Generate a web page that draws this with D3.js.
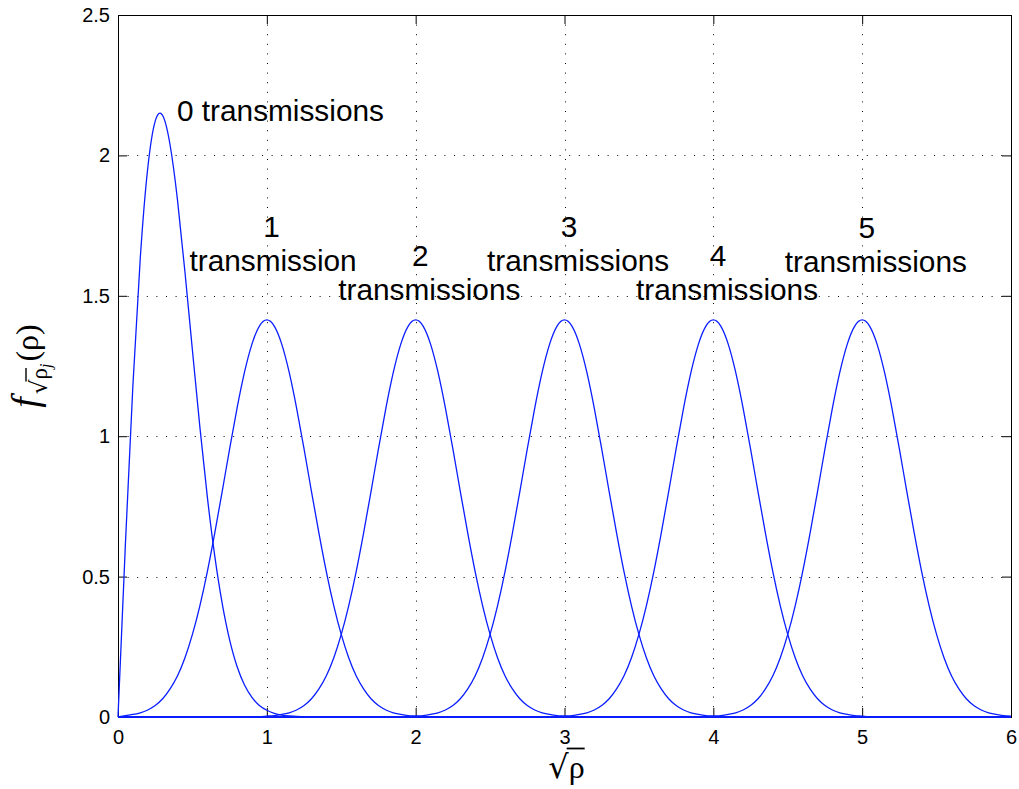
<!DOCTYPE html>
<html><head><meta charset="utf-8">
<script src="https://cdn.jsdelivr.net/npm/d3@7"></script>
<style>
html,body{margin:0;padding:0;background:#fff;}
svg{display:block;font-family:"Liberation Sans",Arial,Helvetica,sans-serif;}
</style></head><body>
<svg id="chart" width="1019" height="789"></svg>
<script>
// Densities of sqrt(rho) after j transmissions, sampled every 0.05 from 0 to 6
const sampleStep = 0.05;

const xTicks = [0, 1, 2, 3, 4, 5, 6];
const xTickLabels = ["0", "1", "2", "3", "4", "5", "6"];
const yTicks = [0, 0.5, 1, 1.5, 2, 2.5];
const yTickLabels = ["0", "0.5", "1", "1.5", "2", "2.5"];

// j = 0
const density0 = [
  0,0.619,1.180,1.637,1.955,2.122,2.142,2.037,1.840,1.584,1.306,1.033,0.785,0.574,0.405,0.275,0.180,0.114,0.070,0.041,
  0.024,0.013,0.007,0.004,0.002,0.001,0,0,0,0,0,0,0,0,0,0,0,0,0,0,
  0,0,0,0,0,0,0,0,0,0,0,0,0,0,0,0,0,0,0,0,
  0,0,0,0,0,0,0,0,0,0,0,0,0,0,0,0,0,0,0,0,
  0,0,0,0,0,0,0,0,0,0,0,0,0,0,0,0,0,0,0,0,
  0,0,0,0,0,0,0,0,0,0,0,0,0,0,0,0,0,0,0,0,
  0
];
// j = 1
const density1 = [
  0,0.005,0.009,0.015,0.025,0.041,0.065,0.100,0.147,0.211,0.294,0.396,0.517,0.655,0.803,0.955,1.100,1.228,1.328,1.392,
  1.414,1.392,1.328,1.228,1.100,0.955,0.803,0.655,0.517,0.396,0.294,0.211,0.147,0.100,0.065,0.041,0.025,0.015,0.009,0.005,
  0.003,0.001,0.001,0,0,0,0,0,0,0,0,0,0,0,0,0,0,0,0,0,
  0,0,0,0,0,0,0,0,0,0,0,0,0,0,0,0,0,0,0,0,
  0,0,0,0,0,0,0,0,0,0,0,0,0,0,0,0,0,0,0,0,
  0,0,0,0,0,0,0,0,0,0,0,0,0,0,0,0,0,0,0,0,
  0
];
// j = 2
const density2 = [
  0,0,0,0,0,0,0,0,0,0,0,0,0,0,0,0,0,0,0.001,0.001,
  0.003,0.005,0.009,0.015,0.025,0.041,0.065,0.100,0.147,0.211,0.294,0.396,0.517,0.655,0.803,0.955,1.100,1.228,1.328,1.392,
  1.414,1.392,1.328,1.228,1.100,0.955,0.803,0.655,0.517,0.396,0.294,0.211,0.147,0.100,0.065,0.041,0.025,0.015,0.009,0.005,
  0.003,0.001,0.001,0,0,0,0,0,0,0,0,0,0,0,0,0,0,0,0,0,
  0,0,0,0,0,0,0,0,0,0,0,0,0,0,0,0,0,0,0,0,
  0,0,0,0,0,0,0,0,0,0,0,0,0,0,0,0,0,0,0,0,
  0
];
// j = 3
const density3 = [
  0,0,0,0,0,0,0,0,0,0,0,0,0,0,0,0,0,0,0,0,
  0,0,0,0,0,0,0,0,0,0,0,0,0,0,0,0,0,0,0.001,0.001,
  0.003,0.005,0.009,0.015,0.025,0.041,0.065,0.100,0.147,0.211,0.294,0.396,0.517,0.655,0.803,0.955,1.100,1.228,1.328,1.392,
  1.414,1.392,1.328,1.228,1.100,0.955,0.803,0.655,0.517,0.396,0.294,0.211,0.147,0.100,0.065,0.041,0.025,0.015,0.009,0.005,
  0.003,0.001,0.001,0,0,0,0,0,0,0,0,0,0,0,0,0,0,0,0,0,
  0,0,0,0,0,0,0,0,0,0,0,0,0,0,0,0,0,0,0,0,
  0
];
// j = 4
const density4 = [
  0,0,0,0,0,0,0,0,0,0,0,0,0,0,0,0,0,0,0,0,
  0,0,0,0,0,0,0,0,0,0,0,0,0,0,0,0,0,0,0,0,
  0,0,0,0,0,0,0,0,0,0,0,0,0,0,0,0,0,0,0.001,0.001,
  0.003,0.005,0.009,0.015,0.025,0.041,0.065,0.100,0.147,0.211,0.294,0.396,0.517,0.655,0.803,0.955,1.100,1.228,1.328,1.392,
  1.414,1.392,1.328,1.228,1.100,0.955,0.803,0.655,0.517,0.396,0.294,0.211,0.147,0.100,0.065,0.041,0.025,0.015,0.009,0.005,
  0.003,0.001,0.001,0,0,0,0,0,0,0,0,0,0,0,0,0,0,0,0,0,
  0
];
// j = 5
const density5 = [
  0,0,0,0,0,0,0,0,0,0,0,0,0,0,0,0,0,0,0,0,
  0,0,0,0,0,0,0,0,0,0,0,0,0,0,0,0,0,0,0,0,
  0,0,0,0,0,0,0,0,0,0,0,0,0,0,0,0,0,0,0,0,
  0,0,0,0,0,0,0,0,0,0,0,0,0,0,0,0,0,0,0.001,0.001,
  0.003,0.005,0.009,0.015,0.025,0.041,0.065,0.100,0.147,0.211,0.294,0.396,0.517,0.655,0.803,0.955,1.100,1.228,1.328,1.392,
  1.414,1.392,1.328,1.228,1.100,0.955,0.803,0.655,0.517,0.396,0.294,0.211,0.147,0.100,0.065,0.041,0.025,0.015,0.009,0.005,
  0.003
];
const densities = [density0, density1, density2, density3, density4, density5];

// Curve annotations (data coordinates)
const zeroLabel = "0 transmissions";
const zeroLabelX = 0.396;
const zeroLabelY = 2.122;
const transCounts = ["1", "2", "3", "4", "5"];
const transWords = ["transmission", "transmissions", "transmissions", "transmissions", "transmissions"];
const transX = [0.48, 1.48, 2.48, 3.48, 4.48];
const transY = [1.59, 1.485, 1.59, 1.485, 1.585];

// ---- layout ----
const plot = {left: 118, right: 1011, top: 15, bottom: 717};
const svg = d3.select("#chart");

const x = d3.scaleLinear().domain([0, 6]).range([plot.left, plot.right]);
const y = d3.scaleLinear().domain([0, 2.5]).range([plot.bottom, plot.top]);

// dotted grid
const grid = svg.append("g").attr("stroke", "#000").attr("stroke-width", 1)
  .attr("stroke-dasharray", "1,8.6").attr("fill", "none");
grid.selectAll("line.gx").data(xTicks.slice(1, -1)).join("line")
  .attr("class", "gx")
  .attr("x1", d => Math.round(x(d)) + 0.5).attr("x2", d => Math.round(x(d)) + 0.5)
  .attr("y1", plot.top).attr("y2", plot.bottom);
grid.selectAll("line.gy").data(yTicks.slice(1, -1)).join("line")
  .attr("class", "gy")
  .attr("y1", d => Math.round(y(d)) + 0.5).attr("y2", d => Math.round(y(d)) + 0.5)
  .attr("x1", plot.left).attr("x2", plot.right);

// axes with inward ticks on all four sides
const tickLen = 9;
const tickFont = 20;
const axisBottom = d3.axisBottom(x).tickValues(xTicks).tickFormat((d, i) => xTickLabels[i])
  .tickSizeInner(-tickLen).tickSizeOuter(0).tickPadding(13);
const axisTop = d3.axisTop(x).tickValues(xTicks).tickFormat("")
  .tickSizeInner(-tickLen).tickSizeOuter(0);
const axisLeft = d3.axisLeft(y).tickValues(yTicks).tickFormat((d, i) => yTickLabels[i])
  .tickSizeInner(-tickLen).tickSizeOuter(0).tickPadding(8);
const axisRight = d3.axisRight(y).tickValues(yTicks).tickFormat("")
  .tickSizeInner(-tickLen).tickSizeOuter(0);

function styleAxis(g) {
  g.select(".domain").remove();
  g.selectAll(".tick line").attr("stroke", "#000");
  g.selectAll(".tick text").attr("fill", "#000")
    .attr("font-family", "'Liberation Sans', Arial, Helvetica, sans-serif")
    .attr("font-size", tickFont);
}
svg.append("g").attr("transform", `translate(0,${plot.bottom})`).call(axisBottom).call(styleAxis);
svg.append("g").attr("transform", `translate(0,${plot.top})`).call(axisTop).call(styleAxis);
svg.append("g").attr("transform", `translate(${plot.left},0)`).call(axisLeft).call(styleAxis);
svg.append("g").attr("transform", `translate(${plot.right},0)`).call(axisRight).call(styleAxis);

svg.append("rect")
  .attr("x", plot.left + 0.5).attr("y", plot.top + 0.5)
  .attr("width", plot.right - plot.left).attr("height", plot.bottom - plot.top)
  .attr("fill", "none").attr("stroke", "#000").attr("stroke-width", 1);

// density curves
const line = d3.line()
  .x((d, i) => x(i * sampleStep))
  .y(d => y(d))
  .curve(d3.curveNatural);

svg.append("g").selectAll("path").data(densities).join("path")
  .attr("d", line)
  .attr("fill", "none")
  .attr("stroke", "#0a1eff")
  .attr("stroke-width", 1.3);

// annotations
const annFont = 29.8;
svg.append("text")
  .attr("x", x(zeroLabelX)).attr("y", y(zeroLabelY))
  .attr("font-size", annFont).attr("fill", "#000")
  .text(zeroLabel);

const ann = svg.append("g").attr("font-size", annFont).attr("fill", "#000");
transWords.forEach((w, i) => {
  const lx = x(transX[i]);
  const ly = y(transY[i]);
  ann.append("text").attr("x", lx).attr("y", ly).text(w);
  ann.append("text").attr("x", lx + 82).attr("y", ly - 34)
    .attr("text-anchor", "middle").text(transCounts[i]);
});

// x-axis label: sqrt(rho)
const xlBase = 778;
const xl = svg.append("text")
  .attr("x", (plot.left + plot.right) / 2 + 2)
  .attr("y", xlBase)
  .attr("text-anchor", "middle")
  .attr("font-size", 32)
  .attr("fill", "#000");
xl.append("tspan").attr("font-family", "'DejaVu Sans', sans-serif").text("\u221A");
xl.append("tspan").attr("font-family", "'Liberation Serif', serif").text("\u03C1");
{
  const n = xl.node();
  const s = n.getEndPositionOfChar(0).x - 2;
  const e = n.getEndPositionOfChar(1).x;
  svg.append("line").attr("x1", s).attr("x2", e)
    .attr("y1", xlBase - 29.5).attr("y2", xlBase - 29.5)
    .attr("stroke", "#000").attr("stroke-width", 1.8);
}

// y-axis label: f_{sqrt(rho_j)}(rho)
const yg = svg.append("g").attr("transform", `translate(38,${(plot.top + plot.bottom) / 2}) rotate(-90)`);
const yl = yg.append("text").attr("text-anchor", "middle").attr("fill", "#000");
yl.append("tspan").attr("font-family", "'Liberation Serif', serif").attr("font-style", "italic")
  .attr("font-size", 38).text("f");
yl.append("tspan").attr("font-family", "'DejaVu Sans', sans-serif").attr("font-size", 23)
  .attr("dy", 9).attr("dx", 3).text("\u221A");
yl.append("tspan").attr("font-family", "'Liberation Serif', serif").attr("font-size", 23)
  .text("\u03C1");
yl.append("tspan").attr("font-family", "'Liberation Serif', serif").attr("font-style", "italic")
  .attr("font-size", 16).attr("dy", 4).text("j");
yl.append("tspan").attr("font-family", "'Liberation Serif', serif").attr("font-size", 32)
  .attr("dy", -13).attr("dx", 2).text("(\u03C1)");
{
  const n = yl.node();
  const s = n.getEndPositionOfChar(1).x - 2;
  const e = n.getEndPositionOfChar(2).x;
  const by = n.getStartPositionOfChar(2).y;
  yg.append("line").attr("x1", s).attr("x2", e)
    .attr("y1", by - 21).attr("y2", by - 21)
    .attr("stroke", "#000").attr("stroke-width", 1.4);
}
</script>
</body></html>
